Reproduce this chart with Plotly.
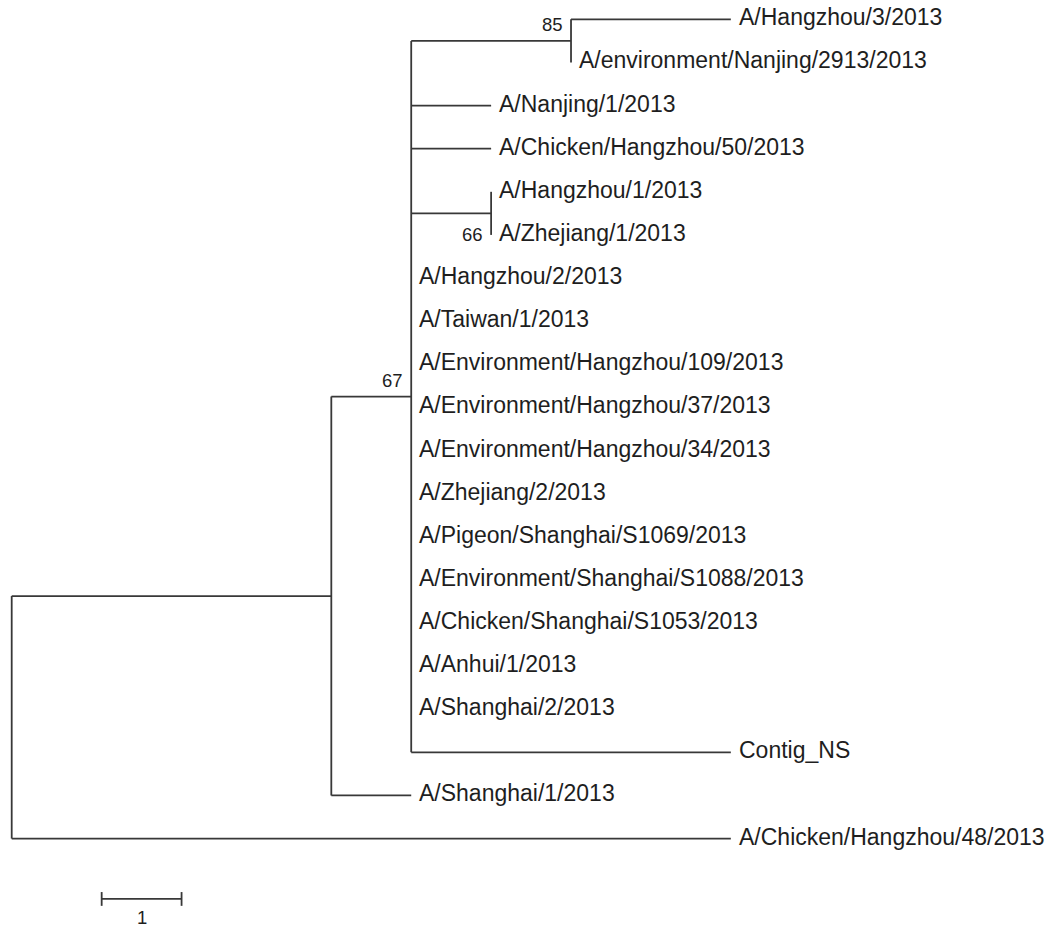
import plotly.graph_objects as go

# ---- tree data ----
node_names = [
    "root", "A", "B", "N85", "N66",
    "A/Hangzhou/3/2013", "A/environment/Nanjing/2913/2013",
    "A/Nanjing/1/2013", "A/Chicken/Hangzhou/50/2013",
    "A/Hangzhou/1/2013", "A/Zhejiang/1/2013",
    "A/Hangzhou/2/2013", "A/Taiwan/1/2013",
    "A/Environment/Hangzhou/109/2013", "A/Environment/Hangzhou/37/2013",
    "A/Environment/Hangzhou/34/2013", "A/Zhejiang/2/2013",
    "A/Pigeon/Shanghai/S1069/2013", "A/Environment/Shanghai/S1088/2013",
    "A/Chicken/Shanghai/S1053/2013", "A/Anhui/1/2013", "A/Shanghai/2/2013",
    "Contig_NS", "A/Shanghai/1/2013", "A/Chicken/Hangzhou/48/2013",
]
node_parents = [
    None, "root", "A", "B", "B",
    "N85", "N85",
    "B", "B",
    "N66", "N66",
    "B", "B",
    "B", "B",
    "B", "B",
    "B", "B",
    "B", "B", "B",
    "B", "A", "root",
]
branch_lengths = [
    0, 4, 1, 2, 1,
    2, 0,
    1, 1,
    0, 0,
    0, 0,
    0, 0,
    0, 0,
    0, 0,
    0, 0, 0,
    4, 1, 9,
]
internal_nodes = ["root", "A", "B", "N85", "N66"]
leaf_order = [n for n in node_names if n not in internal_nodes]
child_order = {
    "root": ["A", "A/Chicken/Hangzhou/48/2013"],
    "A": ["B", "A/Shanghai/1/2013"],
    "B": ["N85", "A/Nanjing/1/2013", "A/Chicken/Hangzhou/50/2013", "N66",
          "A/Hangzhou/2/2013", "A/Taiwan/1/2013",
          "A/Environment/Hangzhou/109/2013", "A/Environment/Hangzhou/37/2013",
          "A/Environment/Hangzhou/34/2013", "A/Zhejiang/2/2013",
          "A/Pigeon/Shanghai/S1069/2013", "A/Environment/Shanghai/S1088/2013",
          "A/Chicken/Shanghai/S1053/2013", "A/Anhui/1/2013", "A/Shanghai/2/2013",
          "Contig_NS"],
    "N85": ["A/Hangzhou/3/2013", "A/environment/Nanjing/2913/2013"],
    "N66": ["A/Hangzhou/1/2013", "A/Zhejiang/1/2013"],
}
boot_nodes = ["N85", "B", "N66"]
boot_values = ["85", "67", "66"]
boot_side = ["above", "above", "below"]
scale_bar_length = 1
scale_bar_label = "1"

# ---- layout computation ----
parent = dict(zip(node_names, node_parents))
blen = dict(zip(node_names, branch_lengths))
xpos = {}
def get_x(n):
    if n in xpos:
        return xpos[n]
    p = parent[n]
    xpos[n] = 0 if p is None else get_x(p) + blen[n]
    return xpos[n]
for n in node_names:
    get_x(n)

ypos = {leaf: i for i, leaf in enumerate(leaf_order)}
def get_y(n):
    if n in ypos:
        return ypos[n]
    ch = child_order[n]
    ys = [get_y(c) for c in ch]
    ypos[n] = (ys[0] + ys[-1]) / 2
    return ypos[n]
get_y("root")

lx, ly = [], []
for n in node_names:
    p = parent[n]
    if p is not None and blen[n] > 0:
        lx += [xpos[p], xpos[n], None]
        ly += [ypos[n], ypos[n], None]
for n, ch in child_order.items():
    lx += [xpos[n], xpos[n], None]
    ly += [ypos[ch[0]], ypos[ch[-1]], None]

LINE = "#383838"
TEXT = "#1e1e1e"
FONT = "Liberation Sans, Arial, sans-serif"

fig = go.Figure()
fig.add_trace(go.Scatter(x=lx, y=ly, mode="lines",
                         line=dict(color=LINE, width=1.8),
                         hoverinfo="skip", showlegend=False))

annotations = []
for leaf in leaf_order:
    annotations.append(dict(
        x=xpos[leaf], y=ypos[leaf], xref="x", yref="y",
        text=leaf, showarrow=False, xanchor="left", yanchor="middle",
        xshift=6, yshift=2,
        font=dict(family=FONT, size=23, color=TEXT)))

for nd, val, side in zip(boot_nodes, boot_values, boot_side):
    annotations.append(dict(
        x=xpos[nd], y=ypos[nd], xref="x", yref="y",
        text=val, showarrow=False, xanchor="right",
        yanchor="bottom" if side == "above" else "top",
        xshift=-6, yshift=4 if side == "above" else -9,
        font=dict(family=FONT, size=18.5, color=TEXT)))

# scale bar
sb_x0 = 1.126
sb_y = 20.40
fig.add_trace(go.Scatter(
    x=[sb_x0, sb_x0 + scale_bar_length, None, sb_x0, sb_x0, None,
       sb_x0 + scale_bar_length, sb_x0 + scale_bar_length],
    y=[sb_y, sb_y, None, sb_y - 0.16, sb_y + 0.16, None, sb_y - 0.16, sb_y + 0.16],
    mode="lines", line=dict(color=LINE, width=1.8),
    hoverinfo="skip", showlegend=False))
annotations.append(dict(
    x=sb_x0 + scale_bar_length / 2, y=sb_y, xref="x", yref="y",
    text=scale_bar_label, showarrow=False, xanchor="center", yanchor="top",
    yshift=-6, font=dict(family=FONT, size=18.5, color=TEXT)))

fig.update_layout(
    width=1055, height=930,
    margin=dict(l=0, r=0, t=0, b=0),
    paper_bgcolor="white", plot_bgcolor="white",
    annotations=annotations,
    xaxis=dict(range=[-0.1464, 13.057], visible=False, fixedrange=True),
    yaxis=dict(range=[21.12, -0.448], visible=False, fixedrange=True),
)
fig.write_html("out.html",
               config={"displayModeBar": False, "staticPlot": True},
               post_script="document.body.style.margin='0';"
                           "document.body.style.overflow='hidden';")
